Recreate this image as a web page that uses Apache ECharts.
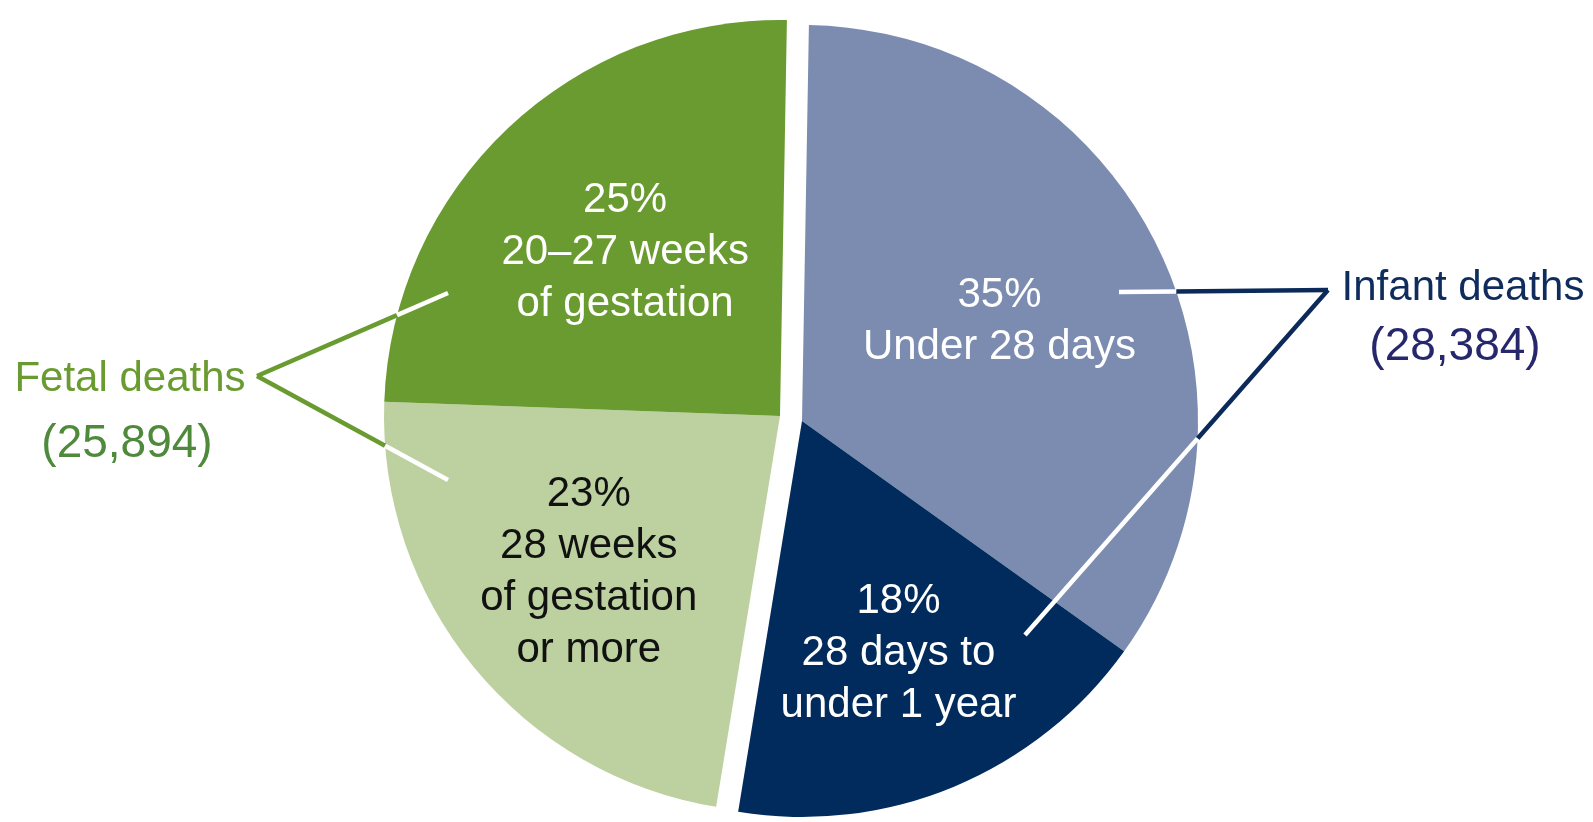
<!DOCTYPE html>
<html>
<head>
<meta charset="utf-8">
<script src="https://cdn.jsdelivr.net/npm/echarts@6/dist/echarts.min.js"></script>
<style>
    html, body { margin: 0; padding: 0; background: #fff; }
    #chart { width: 1593px; height: 822px; }
</style>
</head>
<body>
<div id="chart"></div>
<script>
// shares of all deaths (%)
var infantNames = ["Under 28 days", "28 days to\nunder 1 year"];
var infantValues = [34.6, 17.7];
var fetalNames = ["28 weeks\nof gestation\nor more", "20–27 weeks\nof gestation"];
var fetalValues = [23.0, 24.7];
var groupNames = ["Infant deaths", "Fetal deaths"];
var groupTotals = ["(28,384)", "(25,894)"];

var infantColors = ["#7b8cb0", "#002b5c"];
var infantText = ["#ffffff", "#ffffff"];
var fetalColors = ["#bdd1a0", "#6a9b30"];
var fetalText = ["#111111", "#ffffff"];

var font = "Liberation Sans, Arial, sans-serif";
var R = 396;
var centers = [[802, 421], [780, 416]];
// how far out the labels sit, relative to the default half radius
var labelPush = [[1.10, 1.25], [1.23, 1.12]];

function sum(arr) {
    return arr.reduce(function(a, b) { return a + b }, 0)
}

function hole(v) {
    return {
        value: v,
        name: "",
        itemStyle: { color: "rgba(0,0,0,0)" },
        label: { show: false },
        emphasis: { disabled: true }
    }
}

function slices(names, values, colors, text) {
    return names.map(function(n, i) {
        return {
            value: values[i],
            name: n,
            itemStyle: { color: colors[i] },
            label: { color: text[i] }
        }
    })
}

var infantData = slices(infantNames, infantValues, infantColors, infantText).concat([hole(sum(fetalValues))]);
var fetalData = [hole(sum(infantValues))].concat(slices(fetalNames, fetalValues, fetalColors, fetalText));

function pieSeries(idx, data) {
    return {
        type: "pie",
        center: centers[idx],
        radius: R,
        startAngle: 89,
        clockwise: true,
        silent: true,
        avoidLabelOverlap: false,
        label: {
            show: true,
            position: "inside",
            fontFamily: font,
            fontSize: 42,
            lineHeight: 52,
            align: "center",
            formatter: function(p) {
                return Math.round(p.value) + "%\n" + p.name
            }
        },
        labelLine: { show: false },
        labelLayout: function(p) {
            var r = p.labelRect,
            c = centers[idx],
            k = labelPush[idx][idx === 0 ? p.dataIndex : p.dataIndex - 1] || 1,
            lx = r.x + r.width / 2,
            ly = r.y + r.height / 2;
            return { dx: (lx - c[0]) * (k - 1), dy: (ly - c[1]) * (k - 1) }
        },
        data: data
    }
}

// point where a leader line meets the pie rim
function rim(inner, outer, c) {
    var dx = outer[0] - inner[0], dy = outer[1] - inner[1],
    fx = inner[0] - c[0], fy = inner[1] - c[1],
    a = dx * dx + dy * dy, b = 2 * (fx * dx + fy * dy), cc = fx * fx + fy * fy - R * R,
    t = (-b + Math.sqrt(b * b - 4 * a * cc)) / (2 * a);
    return [inner[0] + t * dx, inner[1] + t * dy]
}

function bracket(apex, ends, c, color) {
    var out = [];
    ends.forEach(function(e) {
        var m = rim(e, apex, c);
        out.push({ type: "polyline", z: 10, shape: { points: [apex, m] }, style: { stroke: color, lineWidth: 4.5, fill: null } });
        out.push({ type: "polyline", z: 10, shape: { points: [m, e] }, style: { stroke: "#ffffff", lineWidth: 4.5, fill: null } });
    });
    return out
}

function label(x, y, text, size, color) {
    return {
        type: "text", z: 11, x: x, y: y,
        style: { text: text, fill: color, font: size + "px " + font, textAlign: "center", textVerticalAlign: "middle" }
    }
}

var graphics = []
    .concat(bracket([1328, 290], [[1119, 292]], centers[0], "#0b2a5a"))
    .concat(bracket([1328, 290], [[1025, 635]], centers[0], "#0b2a5a"))
    .concat(bracket([257, 376], [[448, 293], [448, 480]], centers[1], "#6a9b30"))
    .concat([
        label(1463, 288, groupNames[0], 42, "#0e2c5c"),
        label(1455, 347, groupTotals[0], 46, "#27276b"),
        label(130, 379, groupNames[1], 42, "#6a9b30"),
        label(127, 444, groupTotals[1], 46, "#4f8a3c")
    ]);

var myChart = echarts.init(document.getElementById("chart"));
myChart.setOption({
    animation: false,
    series: [pieSeries(0, infantData), pieSeries(1, fetalData)],
    graphic: graphics
});
</script>
</body>
</html>
